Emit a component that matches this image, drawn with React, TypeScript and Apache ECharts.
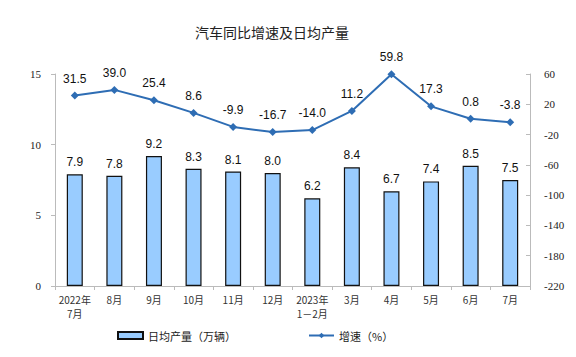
import React, { useEffect, useRef } from "react";
import * as echarts from "echarts";

const categories = ["2022年\n7月", "8月", "9月", "10月", "11月", "12月", "2023年\n1－2月", "3月", "4月", "5月", "6月", "7月"];
const dailyOutput = [7.9, 7.8, 9.2, 8.3, 8.1, 8.0, 6.2, 8.4, 6.7, 7.4, 8.5, 7.5];
const growth = [31.5, 39.0, 25.4, 8.6, -9.9, -16.7, -14.0, 11.2, 59.8, 17.3, 0.8, -3.8];

export default function App() {
  const ref = useRef<HTMLDivElement>(null);
  useEffect(() => {
    const chart = echarts.init(ref.current!, null, { renderer: "svg" });
    chart.setOption({
      animation: false,
      backgroundColor: "#fff",
      title: {
        text: "汽车同比增速及日均产量",
        left: 267,
        textAlign: "center",
        top: 20,
        textStyle: { fontFamily: "Noto Sans CJK SC", fontSize: 14, fontWeight: "normal", color: "#222" },
      },
      grid: { left: 55, right: 46, top: 74, bottom: 71 },
      legend: {
        bottom: 11,
        left: 112,
        itemGap: 72,
        itemWidth: 25,
        itemHeight: 7,
        textStyle: { fontFamily: "Noto Sans CJK SC", fontSize: 11, color: "#222" },
        data: [
          { name: "日均产量（万辆）", icon: "rect" },
          { name: "增速（%）" },
        ],
      },
      xAxis: {
        type: "category",
        data: categories,
        axisLine: { lineStyle: { color: "#bbb" } },
        axisTick: { show: true, length: 4, lineStyle: { color: "#bbb" } },
        axisLabel: { fontFamily: "Noto Sans CJK SC", fontSize: 10, color: "#333", margin: 6, interval: 0, lineHeight: 14 },
      },
      yAxis: [
        {
          type: "value",
          min: 0,
          max: 15,
          interval: 5,
          splitLine: { show: false },
          axisLine: { show: true, lineStyle: { color: "#bbb" } },
          axisTick: { show: true, length: 4, lineStyle: { color: "#bbb" } },
          axisLabel: { fontFamily: "Liberation Serif", fontSize: 11, color: "#222", margin: 14 },
        },
        {
          type: "value",
          min: -220,
          max: 60,
          interval: 40,
          splitLine: { show: false },
          axisLine: { show: true, lineStyle: { color: "#bbb" } },
          axisTick: { show: true, inside: true, length: 4, lineStyle: { color: "#bbb" } },
          axisLabel: { fontFamily: "Liberation Serif", fontSize: 11, color: "#222", margin: 14 },
        },
      ],
      series: [
        {
          name: "日均产量（万辆）",
          type: "bar",
          data: dailyOutput,
          barWidth: 16,
          itemStyle: { color: "#99CCFF", borderColor: "#111", borderWidth: 1.2 },
          label: {
            show: true,
            position: "top",
            distance: 6,
            fontFamily: "Liberation Sans",
            fontSize: 12,
            color: "#111",
            formatter: (p: any) => p.value.toFixed(1),
          },
        },
        {
          name: "增速（%）",
          type: "line",
          yAxisIndex: 1,
          data: growth,
          symbol: "diamond",
          symbolSize: 8,
          lineStyle: { color: "#2E6DB4", width: 2 },
          itemStyle: { color: "#2E6DB4" },
          label: {
            show: true,
            position: "top",
            distance: 7,
            fontFamily: "Liberation Sans",
            fontSize: 12,
            color: "#111",
            formatter: (p: any) => p.value.toFixed(1),
          },
        },
      ],
    });
    return () => chart.dispose();
  }, []);
  return <div ref={ref} style={{ width: 576, height: 357, position: "absolute", left: 0, top: 0 }} />;
}
